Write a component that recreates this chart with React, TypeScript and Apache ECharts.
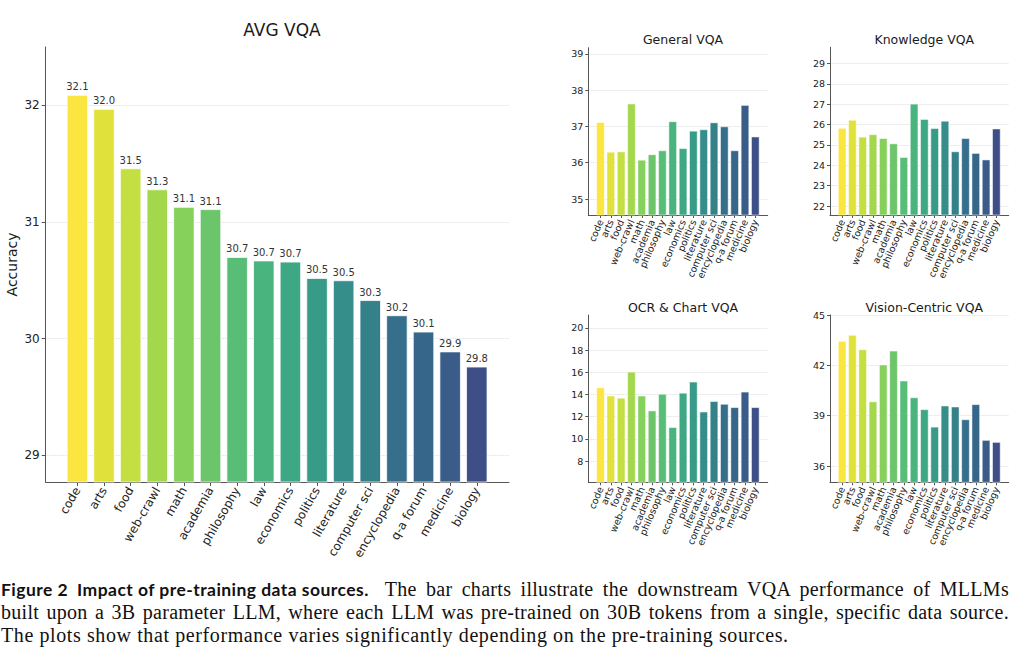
import React, { useEffect, useRef } from "react";
import * as echarts from "echarts";

const CATEGORIES = [
  "code", "arts", "food", "web-crawl", "math", "academia", "philosophy", "law",
  "economics", "politics", "literature", "computer sci", "encyclopedia", "q-a forum", "medicine", "biology",
];
const AVG_VQA = [32.09, 31.97, 31.46, 31.28, 31.13, 31.11, 30.70, 30.67, 30.66, 30.52, 30.50, 30.33, 30.20, 30.06, 29.89, 29.76];
const GENERAL_VQA = [37.12, 36.30, 36.31, 37.63, 36.08, 36.23, 36.34, 37.14, 36.40, 36.88, 36.92, 37.11, 37.00, 36.34, 37.59, 36.72];
const KNOWLEDGE_VQA = [25.83, 26.23, 25.40, 25.52, 25.33, 25.07, 24.40, 27.02, 26.27, 25.82, 26.18, 24.68, 25.33, 24.60, 24.28, 25.80];
const OCR_CHART_VQA = [14.63, 13.9, 13.7, 16.05, 13.9, 12.55, 14.05, 11.05, 14.15, 15.15, 12.45, 13.4, 13.15, 12.85, 14.25, 12.85];
const VISION_CENTRIC_VQA = [43.45, 43.81, 42.95, 39.85, 42.04, 42.87, 41.09, 40.09, 39.38, 38.34, 39.6, 39.54, 38.78, 39.68, 37.55, 37.43];

const AVG_TICKS = [29, 30, 31, 32];
const GENERAL_TICKS = [35, 36, 37, 38, 39];
const KNOWLEDGE_TICKS = [22, 23, 24, 25, 26, 27, 28, 29];
const OCR_TICKS = [8, 10, 12, 14, 16, 18, 20];
const VISION_TICKS = [36, 39, 42, 45];

const COLORS = [
  "#fbe540", "#e0e13b", "#c3df42", "#a3d84d", "#86d05c", "#6cc56b", "#58be77", "#49b47e",
  "#3ea884", "#379b88", "#358e8a", "#34818a", "#366f8b", "#36668a", "#395c89", "#3e4f88",
];

const FONT = "'DejaVu Sans', sans-serif";

type Panel = {
  title: string;
  values: number[];
  ticks: number[];
  yMin: number;
  yMax: number;
  xMin: number;
  xMax: number;
  left: number;
  right: number;
  top: number;
  bottom: number;
  titleX: number;
  titleY: number;
  main: boolean;
};

const PANELS: Panel[] = [
  { title: "AVG VQA", values: AVG_VQA, ticks: AVG_TICKS, yMin: 28.77, yMax: 32.5, xMin: -1.19, xMax: 16.21,
    left: 45.7, right: 515, top: 47, bottom: 173, titleX: 277, titleY: 16, main: true },
  { title: "General VQA", values: GENERAL_VQA, ticks: GENERAL_TICKS, yMin: 34.56, yMax: 39.17, xMin: -1.18, xMax: 16.2,
    left: 588.3, right: 256.3, top: 47.7, bottom: 440, titleX: 678, titleY: 28, main: false },
  { title: "Knowledge VQA", values: KNOWLEDGE_VQA, ticks: KNOWLEDGE_TICKS, yMin: 21.56, yMax: 29.79, xMin: -1.18, xMax: 16.2,
    left: 830, right: 15.3, top: 47.3, bottom: 440, titleX: 919.3, titleY: 28, main: false },
  { title: "OCR & Chart VQA", values: OCR_CHART_VQA, ticks: OCR_TICKS, yMin: 6.08, yMax: 21.17, xMin: -1.18, xMax: 16.2,
    left: 588.3, right: 256.3, top: 315, bottom: 172.7, titleX: 678, titleY: 296, main: false },
  { title: "Vision-Centric VQA", values: VISION_CENTRIC_VQA, ticks: VISION_TICKS, yMin: 35.03, yMax: 45, xMin: -1.18, xMax: 16.2,
    left: 830, right: 15.3, top: 315, bottom: 172.7, titleX: 919.3, titleY: 296, main: false },
];

function buildOption() {
  const idx = CATEGORIES.map((_, i) => i);
  const even = idx.filter((i) => i % 2 === 0);
  const odd = idx.filter((i) => i % 2 === 1);
  const grids: any[] = [];
  const xAxes: any[] = [];
  const yAxes: any[] = [];
  const series: any[] = [];
  const titles: any[] = [];

  PANELS.forEach((p, k) => {
    const m = p.main;
    grids.push({ left: p.left, right: p.right, top: p.top, bottom: p.bottom, containLabel: false, outerBoundsMode: "none" });
    titles.push({
      text: p.title, left: p.titleX, top: p.titleY, textAlign: "center",
      textStyle: { fontFamily: FONT, fontSize: m ? 17 : 12.5, fontWeight: "normal", color: "#1a1a1a" },
    });
    const labelBase = {
      rotate: m ? 60 : 67, fontFamily: FONT, fontSize: m ? 12 : 9.5,
      color: "#222", margin: m ? 6 : 5, showMinLabel: true, showMaxLabel: true, hideOverlap: false,
      formatter: (v: number) => CATEGORIES[Math.round(v)] ?? "",
    };
    // main axis: line, ticks and (for the small panels) the even labels
    const mainAxisIndex = xAxes.length;
    xAxes.push({
      type: "value", gridIndex: k, min: p.xMin, max: p.xMax, position: "bottom",
      axisLine: { show: true, onZero: false, lineStyle: { color: "#555", width: 1 } },
      axisTick: { show: true, customValues: idx, length: m ? 4 : 3, lineStyle: { color: "#555" } },
      axisLabel: { ...labelBase, customValues: m ? idx : even },
      splitLine: { show: false },
    });
    if (!m) {
      // companion axis carrying the odd labels so that neighbours are not hidden as overlaps
      xAxes.push({
        type: "value", gridIndex: k, min: p.xMin, max: p.xMax, position: "bottom", offset: 0,
        axisLine: { show: false, onZero: false },
        axisTick: { show: false },
        axisLabel: { ...labelBase, customValues: odd },
        splitLine: { show: false },
      });
    }
    yAxes.push({
      type: "value", gridIndex: k, min: p.yMin, max: p.yMax,
      name: m ? "Accuracy" : "", nameLocation: "middle", nameRotate: 90, nameGap: 27,
      nameTextStyle: { fontFamily: FONT, fontSize: 14, color: "#1a1a1a" },
      axisLine: { show: true, onZero: false, lineStyle: { color: "#555", width: 1 } },
      axisTick: { show: true, customValues: p.ticks, length: m ? 4 : 3, lineStyle: { color: "#555" } },
      axisLabel: {
        customValues: p.ticks, fontFamily: FONT, fontSize: m ? 12 : 9.5, color: "#222", margin: m ? 6 : 5,
        showMinLabel: true, showMaxLabel: true,
        formatter: (v: number) => String(v),
      },
      splitLine: { show: true, lineStyle: { color: "#d4d4d4", type: "dotted", width: 0.8 } },
    });
    series.push({
      type: "bar", xAxisIndex: mainAxisIndex, yAxisIndex: k,
      data: p.values.map((v, i) => [i, v]),
      barWidth: m ? 21.5 : 8.4,
      clip: true,
      itemStyle: {
        color: (q: any) => COLORS[q.dataIndex],
        borderColor: "rgba(255,255,255,0.75)", borderWidth: m ? 1 : 0.7,
      },
      label: m
        ? {
            show: true, position: "top", distance: 3, fontFamily: FONT, fontSize: 10, color: "#333",
            formatter: (q: any) => (q.value[1] as number).toFixed(1),
          }
        : { show: false },
    });
  });

  return {
    animation: false,
    backgroundColor: "#ffffff",
    title: titles,
    grid: grids,
    xAxis: xAxes,
    yAxis: yAxes,
    series,
  };
}

export default function App() {
  const ref = useRef<HTMLDivElement>(null);
  useEffect(() => {
    document.body.style.margin = "0";
    const chart = echarts.init(ref.current as HTMLDivElement, null, { renderer: "svg" });
    chart.setOption(buildOption() as any);
    return () => chart.dispose();
  }, []);

  const serif = "'Liberation Serif', 'DejaVu Serif', serif";
  return (
    <div style={{ position: "relative", width: 1024, height: 655, background: "#fff", overflow: "hidden" }}>
      <div ref={ref} style={{ position: "absolute", left: 0, top: 0, width: 1024, height: 655 }} />
      <div
        style={{
          position: "absolute", left: 1, top: 578, width: 1008, fontFamily: serif, fontSize: 20,
          letterSpacing: "0.3px", lineHeight: "23px", color: "#111",
        }}
      >
        <div style={{ textAlign: "justify", textAlignLast: "justify" as any }}>
          <span
            style={{
              display: "inline-block", fontFamily: "Lato, sans-serif", fontWeight: 700, fontSize: 17.5,
              letterSpacing: "0.45px", marginRight: 7,
            }}
          >
            Figure 2<span style={{ marginLeft: 9 }}>Impact of pre-training data sources.</span>
          </span>{" "}
          <span style={{ fontFamily: serif }}>The bar charts illustrate the downstream VQA performance of MLLMs</span>
        </div>
        <div style={{ textAlign: "justify", textAlignLast: "justify" as any, fontFamily: serif }}>
          built upon a 3B parameter LLM, where each LLM was pre-trained on 30B tokens from a single, specific data source.
        </div>
        <div style={{ textAlign: "left", fontFamily: serif, letterSpacing: "0.6px" }}>
          The plots show that performance varies significantly depending on the pre-training sources.
        </div>
      </div>
    </div>
  );
}
